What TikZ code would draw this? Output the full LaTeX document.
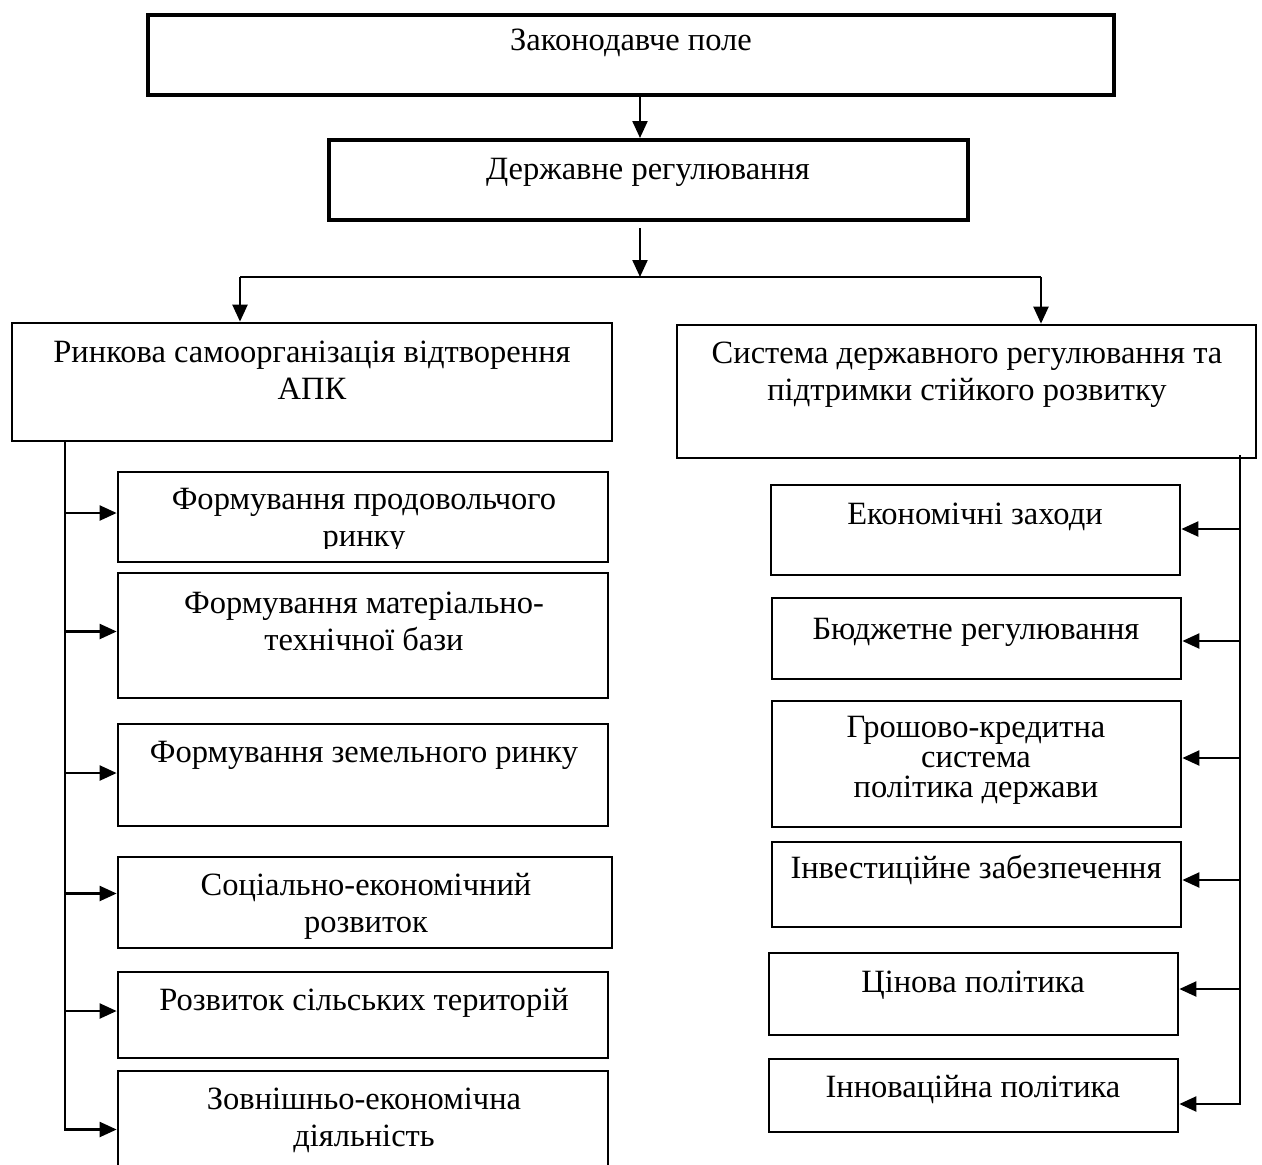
\documentclass[tikz,border=0pt]{standalone}
\usepackage{fontspec}
\setmainfont{Liberation Serif}
\usetikzlibrary{arrows.meta,fit}
\newcommand{\mkbox}[6]{\path (#2,#3) coordinate (#1-a) (#4,#5) coordinate (#1-b);
  \node[#6, fit=(#1-a)(#1-b)] (#1) {};}
\begin{document}
\begin{tikzpicture}[x=0.02cm,y=-0.02cm,
  boxthick/.style={draw, line width=0.08cm, inner sep=0pt},
  boxthin/.style={draw, line width=0.055cm, inner sep=0pt},
  lbl/.style={align=center, font=\fontsize{18.5}{21}\selectfont, inner sep=0pt},
  conn/.style={line width=0.04cm},
  arr/.style={line width=0.045cm, -{Triangle[length=0.34cm,width=0.3cm]}}]
\useasboundingbox (0,0) rectangle (1262,1164);
\clip (0,0) rectangle (1262,1164);
% top boxes
\mkbox{b1}{148}{15}{1114}{95}{boxthick}
\mkbox{b2}{329}{140}{968}{220}{boxthick}
\node[lbl] (t1) at (631,43) {Законодавче поле};
\node[lbl] (t2) at (648,172) {Державне регулювання};
% level 2
\mkbox{L0}{12}{323}{612}{441}{boxthin}
\mkbox{R0}{677}{325}{1256}{458}{boxthin}
\node[lbl] (tL0) at (312,370) {Ринкова самоорганізація відтворення\\АПК};
\node[lbl] (tR0) at (967,375) {Система державного регулювання та\\підтримки стійкого розвитку};
% left boxes
\mkbox{L1}{118}{472}{608}{562}{boxthin}
\mkbox{L2}{118}{573}{608}{698}{boxthin}
\mkbox{L3}{118}{724}{608}{826}{boxthin}
\mkbox{L4}{118}{857}{612}{948}{boxthin}
\mkbox{L5}{118}{972}{608}{1058}{boxthin}
\mkbox{L6}{118}{1071}{608}{1190}{boxthin}
\begin{scope}
\clip (118,472) rectangle (608,548);
\node[lbl] (tL1) at (364,521) {Формування продовольчого\\ринку};
\end{scope}
\node[lbl] (tL2) at (364,621) {Формування матеріально-\\технічної бази};
\node[lbl] (tL3) at (364,755) {Формування земельного ринку};
\node[lbl] (tL4) at (366,906) {Соціально-економічний\\розвиток};
\node[lbl] (tL5) at (364,1003) {Розвиток сільських територій};
\node[lbl] (tL6) at (364,1120) {Зовнішньо-економічна\\діяльність};
% right boxes
\mkbox{R1}{771}{485}{1180}{575}{boxthin}
\mkbox{R2}{772}{598}{1181}{679}{boxthin}
\mkbox{R3}{772}{701}{1181}{827}{boxthin}
\mkbox{R4}{772}{842}{1181}{927}{boxthin}
\mkbox{R5}{769}{953}{1178}{1035}{boxthin}
\mkbox{R6}{769}{1059}{1178}{1132}{boxthin}
\node[lbl] (tR1) at (975,517) {Економічні заходи};
\node[lbl] (tR2) at (976,632) {Бюджетне регулювання};
\node[lbl, font=\fontsize{18.5}{17}\selectfont] (tR3) at (976,760) {Грошово-кредитна\\система\\політика держави};
\node[lbl] (tR4) at (976,870) {Інвестиційне забезпечення};
\node[lbl] (tR5) at (973,985) {Цінова політика};
\node[lbl] (tR6) at (973,1090) {Інноваційна політика};
% connectors top
\coordinate (ax) at (640,0);
\coordinate (s2) at ([yshift=-0.12cm]b2.south);
\coordinate (jn) at (640,277);
\coordinate (lx) at (240,277);
\coordinate (rx) at (1041,277);
\draw[arr] (b1.south -| ax) -- (b2.north -| ax);
\draw[arr] (s2 -| ax) -- (jn);
\draw[conn] (lx) -- (rx);
\draw[arr] (lx) -- (L0.north -| lx);
\draw[arr] (rx) -- (R0.north -| rx);
% left spine
\coordinate (ls) at (65,0);
\path ([yshift=0.08cm]L1.west) coordinate (L1t)
      ([yshift=0.08cm]L2.west) coordinate (L2t)
      ([yshift=0.04cm]L3.west) coordinate (L3t)
      ([yshift=0.18cm]L4.west) coordinate (L4t)
      ([yshift=0.08cm]L5.west) coordinate (L5t)
      ([yshift=0.02cm]L6.west) coordinate (L6t);
\draw[arr] (L0.south -| ls) |- (L6t);
\foreach \n in {L1t,L2t,L3t,L4t,L5t} \draw[arr] (\n -| ls) -- (\n);
% right spine
\coordinate (rs) at (1240,455);
\path ([yshift=0.02cm]R1.east) coordinate (R1t)
      ([yshift=-0.05cm]R2.east) coordinate (R2t)
      ([yshift=0.12cm]R3.east) coordinate (R3t)
      ([yshift=0.09cm]R4.east) coordinate (R4t)
      ([yshift=0.1cm]R5.east) coordinate (R5t)
      ([yshift=-0.17cm]R6.east) coordinate (R6t);
\draw[arr] (rs) |- (R6t);
\foreach \n in {R1t,R2t,R3t,R4t,R5t} \draw[arr] (\n -| rs) -- (\n);
\end{tikzpicture}
\end{document}
